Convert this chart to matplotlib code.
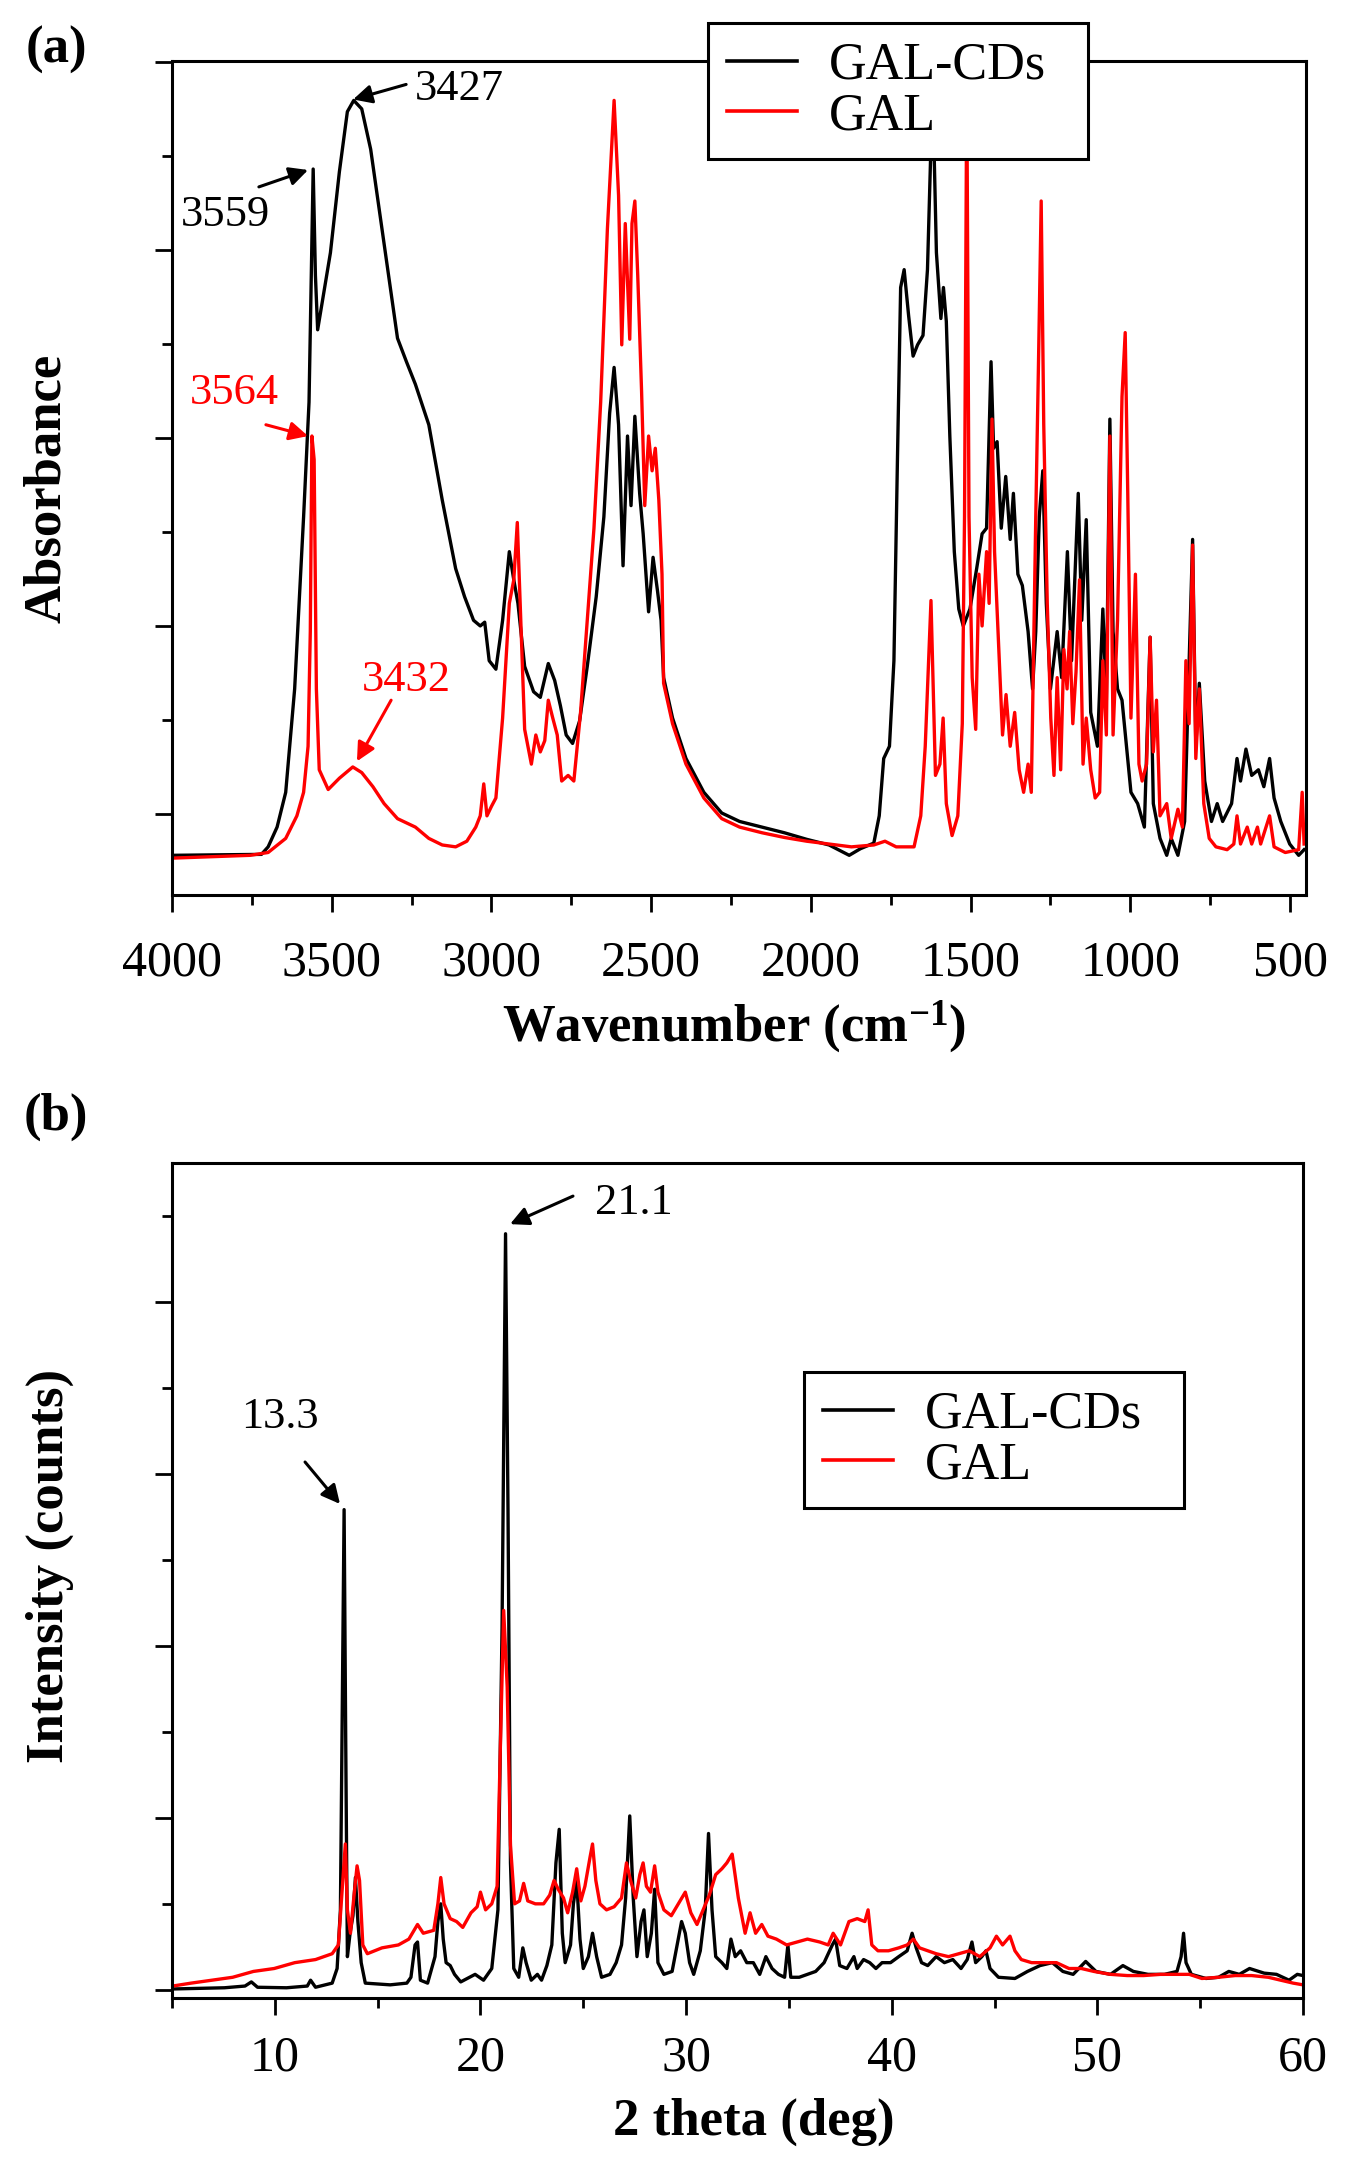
import matplotlib
matplotlib.use("Agg")
import matplotlib.pyplot as plt
from matplotlib.ticker import MultipleLocator, NullFormatter

plt.rcParams['font.family'] = ['Liberation Serif', 'DejaVu Serif']
plt.rcParams['mathtext.default'] = 'regular'

# ---- (a) FTIR data ----
cds_ir_wn = [4000, 3720, 3699, 3671, 3644, 3616, 3588, 3571, 3562, 3558,
             3551, 3544, 3525, 3504, 3476, 3451, 3431, 3406, 3378, 3350,
             3322, 3294, 3266, 3238, 3196, 3154, 3112, 3084, 3056, 3035,
             3021, 3007, 2986, 2965, 2944, 2930, 2917, 2896, 2868, 2847,
             2822, 2802, 2784, 2766, 2746, 2724, 2700, 2672, 2648, 2630,
             2616, 2602, 2588, 2574, 2563, 2551, 2536, 2525, 2508, 2494,
             2480, 2469, 2461, 2433, 2391, 2335, 2279, 2223, 2153, 2083,
             2013, 1943, 1880, 1845, 1803, 1786, 1772, 1754, 1740, 1729,
             1719, 1708, 1694, 1680, 1666, 1649, 1635, 1624, 1618, 1607,
             1593, 1585, 1576, 1565, 1551, 1537, 1523, 1502, 1481, 1464,
             1450, 1436, 1428, 1417, 1404, 1390, 1376, 1366, 1352, 1338,
             1320, 1306, 1296, 1285, 1274, 1263, 1250, 1229, 1215, 1197,
             1184, 1173, 1163, 1152, 1138, 1124, 1103, 1086, 1075, 1064,
             1054, 1040, 1026, 1012, 998, 977, 956, 938, 928, 907,
             886, 872, 851, 830, 805, 795, 784, 767, 746, 728,
             711, 683, 666, 655, 638, 620, 599, 582, 564, 550,
             529, 501, 473, 456]
cds_ir_abs = [-0.044, -0.043, -0.035, -0.014, 0.023, 0.133, 0.316, 0.438, 0.609, 0.686,
              0.573, 0.515, 0.554, 0.597, 0.683, 0.747, 0.759, 0.750, 0.707, 0.640,
              0.573, 0.506, 0.481, 0.457, 0.414, 0.334, 0.261, 0.231, 0.206, 0.200,
              0.204, 0.163, 0.154, 0.206, 0.279, 0.249, 0.224, 0.157, 0.130, 0.124,
              0.160, 0.142, 0.115, 0.084, 0.075, 0.099, 0.157, 0.231, 0.316, 0.426,
              0.475, 0.414, 0.264, 0.402, 0.328, 0.423, 0.341, 0.298, 0.215, 0.273,
              0.237, 0.206, 0.145, 0.102, 0.059, 0.023, 0.001, -0.008, -0.014, -0.020,
              -0.027, -0.033, -0.044, -0.037, -0.031, -0.002, 0.059, 0.072, 0.163, 0.377,
              0.560, 0.579, 0.530, 0.487, 0.499, 0.509, 0.579, 0.713, 0.760, 0.597,
              0.527, 0.560, 0.524, 0.402, 0.279, 0.218, 0.200, 0.218, 0.261, 0.298,
              0.304, 0.481, 0.389, 0.396, 0.304, 0.359, 0.292, 0.341, 0.255, 0.243,
              0.194, 0.133, 0.194, 0.316, 0.365, 0.224, 0.133, 0.194, 0.145, 0.279,
              0.163, 0.255, 0.341, 0.206, 0.313, 0.108, 0.072, 0.218, 0.121, 0.420,
              0.194, 0.133, 0.121, 0.072, 0.023, 0.011, -0.014, 0.188, 0.011, -0.026,
              -0.044, -0.026, -0.044, -0.008, 0.292, 0.072, 0.139, 0.035, -0.008, 0.011,
              -0.008, 0.011, 0.059, 0.035, 0.069, 0.041, 0.047, 0.029, 0.059, 0.017,
              -0.008, -0.032, -0.044, -0.038]

gal_ir_wn = [4000, 3755, 3699, 3644, 3609, 3588, 3574, 3567, 3562, 3555,
             3548, 3539, 3511, 3476, 3434, 3406, 3371, 3336, 3294, 3238,
             3196, 3154, 3112, 3077, 3049, 3035, 3024, 3014, 3000, 2986,
             2965, 2944, 2930, 2919, 2910, 2896, 2875, 2861, 2847, 2833,
             2822, 2808, 2794, 2780, 2760, 2742, 2721, 2700, 2679, 2658,
             2637, 2616, 2602, 2592, 2581, 2567, 2560, 2551, 2542, 2530,
             2520, 2508, 2497, 2487, 2476, 2466, 2461, 2433, 2391, 2335,
             2279, 2223, 2153, 2083, 2013, 1943, 1873, 1803, 1768, 1733,
             1677, 1656, 1642, 1624, 1610, 1596, 1586, 1576, 1558, 1540,
             1526, 1519, 1512, 1505, 1495, 1484, 1474, 1464, 1450, 1442,
             1433, 1425, 1414, 1400, 1389, 1376, 1362, 1348, 1334, 1320,
             1310, 1296, 1288, 1279, 1271, 1260, 1249, 1239, 1229, 1218,
             1208, 1198, 1190, 1180, 1170, 1159, 1148, 1138, 1124, 1110,
             1096, 1086, 1075, 1064, 1054, 1040, 1026, 1016, 1008, 998,
             984, 973, 963, 949, 938, 928, 918, 907, 886, 872,
             851, 837, 826, 816, 805, 795, 784, 770, 753, 732,
             697, 676, 666, 655, 634, 620, 602, 592, 564, 550,
             515, 473, 462, 456]
gal_ir_abs = [-0.047, -0.044, -0.041, -0.026, -0.002, 0.023, 0.072, 0.194, 0.402, 0.377,
              0.133, 0.047, 0.026, 0.038, 0.050, 0.044, 0.029, 0.011, -0.005, -0.014,
              -0.026, -0.033, -0.035, -0.029, -0.014, -0.002, 0.032, -0.002, 0.008, 0.017,
              0.102, 0.224, 0.249, 0.310, 0.224, 0.090, 0.053, 0.084, 0.066, 0.078,
              0.121, 0.102, 0.084, 0.035, 0.041, 0.035, 0.108, 0.206, 0.304, 0.438,
              0.622, 0.759, 0.658, 0.499, 0.628, 0.505, 0.628, 0.652, 0.573, 0.450,
              0.328, 0.402, 0.365, 0.389, 0.334, 0.255, 0.139, 0.096, 0.053, 0.017,
              -0.005, -0.014, -0.020, -0.025, -0.029, -0.032, -0.035, -0.033, -0.029, -0.035,
              -0.035, -0.002, 0.072, 0.227, 0.041, 0.053, 0.102, 0.011, -0.023, -0.002,
              0.096, 0.316, 0.780, 0.316, 0.145, 0.090, 0.255, 0.200, 0.279, 0.224,
              0.420, 0.279, 0.194, 0.084, 0.127, 0.072, 0.108, 0.047, 0.023, 0.053,
              0.023, 0.316, 0.469, 0.652, 0.414, 0.224, 0.102, 0.041, 0.145, 0.047,
              0.175, 0.133, 0.194, 0.096, 0.151, 0.249, 0.053, 0.102, 0.047, 0.017,
              0.023, 0.163, 0.084, 0.402, 0.084, 0.206, 0.444, 0.512, 0.341, 0.102,
              0.255, 0.053, 0.035, 0.053, 0.188, 0.066, 0.121, -0.002, 0.011, -0.026,
              0.005, -0.014, 0.163, 0.096, 0.286, 0.059, 0.133, 0.011, -0.026, -0.035,
              -0.038, -0.032, -0.002, -0.032, -0.014, -0.032, -0.014, -0.032, -0.002, -0.035,
              -0.041, -0.038, 0.023, -0.032]

# ---- (b) XRD data ----
cds_xrd_2t = [5.03, 7.55, 8.55, 8.86, 9.16, 10.57, 11.58, 11.74, 11.98, 12.79,
              13.03, 13.19, 13.29, 13.37, 13.45, 13.53, 13.66, 13.8, 13.92, 14.04,
              14.2, 14.4, 15.61, 16.42, 16.62, 16.82, 16.94, 17.08, 17.43, 17.79,
              17.93, 18.07, 18.19, 18.33, 18.53, 18.74, 19.04, 19.74, 20.15, 20.55,
              20.85, 21.05, 21.22, 21.34, 21.46, 21.62, 21.86, 22.06, 22.22, 22.47,
              22.77, 22.97, 23.23, 23.47, 23.67, 23.83, 23.98, 24.12, 24.38, 24.52,
              24.68, 24.84, 25.0, 25.25, 25.45, 25.65, 25.89, 26.3, 26.6, 26.86,
              27.06, 27.26, 27.43, 27.61, 27.81, 27.95, 28.11, 28.31, 28.47, 28.63,
              28.92, 29.32, 29.62, 29.78, 29.96, 30.17, 30.37, 30.69, 30.93, 31.09,
              31.26, 31.44, 31.74, 31.98, 32.18, 32.39, 32.65, 32.95, 33.27, 33.58,
              33.88, 34.18, 34.49, 34.79, 34.95, 35.09, 35.5, 35.9, 36.3, 36.71,
              37.11, 37.27, 37.47, 37.82, 38.16, 38.32, 38.63, 38.93, 39.23, 39.53,
              39.94, 40.34, 40.75, 40.99, 41.19, 41.45, 41.75, 42.16, 42.56, 42.97,
              43.37, 43.67, 43.9, 44.08, 44.38, 44.58, 44.78, 45.19, 45.99, 46.6,
              47.21, 47.81, 48.32, 48.82, 49.43, 49.93, 50.64, 51.24, 51.75, 52.46,
              53.26, 53.87, 54.07, 54.19, 54.31, 54.57, 55.28, 55.89, 56.39, 56.9,
              57.4, 58.11, 58.71, 59.32, 59.72, 60.0]
cds_xrd_counts = [6, 13, 23, 47, 16, 13, 23, 57, 16, 40,
                  125, 466, 1763, 2793, 1422, 194, 330, 432, 654, 398,
                  159, 40, 30, 40, 74, 262, 279, 57, 40, 194,
                  398, 501, 296, 159, 142, 91, 47, 91, 57, 125,
                  466, 2104, 4397, 2787, 739, 125, 74, 245, 159, 57,
                  91, 57, 142, 262, 739, 934, 330, 159, 262, 501,
                  637, 296, 125, 194, 330, 194, 74, 91, 159, 262,
                  535, 1012, 535, 194, 398, 466, 194, 330, 586, 159,
                  91, 108, 296, 398, 330, 159, 91, 228, 466, 910,
                  466, 194, 159, 125, 296, 194, 228, 159, 159, 91,
                  194, 125, 91, 74, 262, 74, 74, 91, 108, 159,
                  262, 296, 142, 125, 194, 125, 177, 159, 125, 159,
                  159, 194, 228, 330, 245, 159, 142, 194, 159, 177,
                  125, 177, 279, 159, 194, 228, 125, 74, 67, 108,
                  142, 159, 108, 91, 166, 108, 91, 142, 108, 91,
                  91, 108, 194, 330, 159, 91, 67, 74, 108, 91,
                  125, 98, 91, 57, 91, 84]

gal_xrd_2t = [5.03, 5.93, 6.94, 7.95, 8.96, 9.97, 10.97, 11.98, 12.79, 13.09,
              13.29, 13.43, 13.53, 13.68, 13.84, 14.0, 14.12, 14.28, 14.5, 15.21,
              16.01, 16.52, 16.94, 17.22, 17.73, 17.93, 18.07, 18.23, 18.53, 18.84,
              19.14, 19.54, 19.84, 20.0, 20.25, 20.55, 20.81, 20.97, 21.13, 21.3,
              21.46, 21.66, 21.9, 22.1, 22.3, 22.67, 23.07, 23.37, 23.58, 23.78,
              24.04, 24.24, 24.48, 24.68, 24.88, 25.08, 25.33, 25.45, 25.61, 25.81,
              26.13, 26.5, 26.86, 27.1, 27.3, 27.55, 27.75, 27.91, 28.07, 28.27,
              28.47, 28.63, 28.92, 29.28, 29.62, 29.96, 30.23, 30.53, 30.83, 31.13,
              31.44, 31.74, 31.98, 32.24, 32.54, 32.87, 33.11, 33.38, 33.68, 33.98,
              34.39, 34.89, 35.39, 35.9, 36.5, 36.91, 37.15, 37.51, 37.92, 38.32,
              38.69, 38.85, 39.03, 39.33, 39.84, 40.34, 40.75, 41.05, 41.35, 41.75,
              42.16, 42.76, 43.27, 43.77, 44.28, 44.78, 45.09, 45.39, 45.75, 45.99,
              46.3, 46.8, 47.41, 48.01, 48.62, 49.22, 49.83, 50.64, 51.45, 52.25,
              53.06, 53.87, 54.47, 55.08, 55.89, 56.7, 57.5, 58.31, 58.92, 59.52,
              60.0]
gal_xrd_counts = [23, 40, 57, 74, 108, 125, 159, 177, 211, 262,
                  603, 849, 466, 330, 535, 722, 637, 262, 211, 245,
                  262, 296, 381, 330, 347, 501, 654, 501, 415, 398,
                  364, 449, 484, 569, 466, 501, 603, 1422, 2207, 1763,
                  842, 501, 518, 620, 518, 501, 501, 552, 637, 586,
                  535, 449, 569, 705, 518, 603, 773, 849, 637, 501,
                  466, 484, 535, 739, 637, 535, 671, 739, 603, 569,
                  722, 569, 466, 432, 501, 569, 449, 381, 466, 552,
                  671, 705, 739, 790, 535, 330, 449, 330, 381, 313,
                  296, 262, 279, 296, 279, 262, 330, 262, 398, 415,
                  398, 466, 262, 228, 228, 245, 262, 296, 245, 228,
                  211, 194, 211, 228, 194, 245, 313, 262, 313, 228,
                  177, 159, 159, 159, 125, 125, 108, 91, 84, 84,
                  91, 91, 91, 67, 74, 84, 84, 74, 57, 40,
                  30]

fig = plt.figure(figsize=(13.51, 21.76), dpi=100)
ax1 = fig.add_axes([0.1273, 0.5887, 0.8394, 0.3833])
ax2 = fig.add_axes([0.1273, 0.0818, 0.8372, 0.3837])

LW = 2.4
ax1.plot(cds_ir_wn, cds_ir_abs, color='black', lw=LW, label='GAL-CDs')
ax1.plot(gal_ir_wn, gal_ir_abs, color='red', lw=LW, label='GAL')
ax2.plot(cds_xrd_2t, cds_xrd_counts, color='black', lw=LW, label='GAL-CDs')
ax2.plot(gal_xrd_2t, gal_xrd_counts, color='red', lw=LW, label='GAL')

ax1.set_xlim(4000, 450)
ax1.set_ylim(-0.0862, 0.801)
ax1.xaxis.set_major_locator(MultipleLocator(500))
ax1.xaxis.set_minor_locator(MultipleLocator(250))
ax1.yaxis.set_major_locator(MultipleLocator(0.2))
ax1.yaxis.set_minor_locator(MultipleLocator(0.1))

ax2.set_xlim(5, 60)
ax2.set_ylim(-46.5, 4808)
ax2.xaxis.set_major_locator(MultipleLocator(10))
ax2.xaxis.set_minor_locator(MultipleLocator(5))
ax2.yaxis.set_major_locator(MultipleLocator(1000))
ax2.yaxis.set_minor_locator(MultipleLocator(500))

for ax, pad in ((ax1, 20), (ax2, 14)):
    ax.yaxis.set_major_formatter(NullFormatter())
    ax.tick_params(which='major', direction='out', length=12.5, width=2.0,
                   labelsize=36, top=False, right=False)
    ax.tick_params(which='minor', direction='out', length=7, width=2.0,
                   top=False, right=False)
    ax.tick_params(axis='x', which='major', pad=pad)
    for sp in ax.spines.values():
        sp.set_linewidth(2.2)

ax1.set_xlabel('Wavenumber (cm$^{-1}$)', fontsize=38, fontweight='bold', va='center')
ax1.xaxis.set_label_coords(0.4956, -0.158)
ax1.set_ylabel('Absorbance', fontsize=38, fontweight='bold', va='center')
ax1.yaxis.set_label_coords(-0.110, 0.488)

ax2.set_xlabel('2 theta (deg)', fontsize=38, fontweight='bold', va='center')
ax2.xaxis.set_label_coords(0.5146, -0.1485)
ax2.set_ylabel('Intensity (counts)', fontsize=38, fontweight='bold', va='center')
ax2.yaxis.set_label_coords(-0.108, 0.517)

fig.text(56 / 1351, 1 - 50 / 2176, '(a)', fontsize=38, fontweight='bold',
         ha='center', va='center')
fig.text(56 / 1351, 1 - 1117 / 2176, '(b)', fontsize=38, fontweight='bold',
         ha='center', va='center')

# peak annotations
def arrow(ax, head, tail, color):
    ax.annotate('', xy=head, xytext=tail,
                arrowprops=dict(arrowstyle='-|>', color=color, lw=2.2,
                                mutation_scale=28, shrinkA=0, shrinkB=0))

ax1.text(3239, 0.771, '3427', fontsize=32, ha='left', va='center', color='black')
arrow(ax1, (3433, 0.760), (3267, 0.776), 'black')
ax1.text(3834, 0.637, '3559', fontsize=32, ha='center', va='center', color='black')
arrow(ax1, (3574, 0.685), (3728, 0.667), 'black')
ax1.text(3806, 0.448, '3564', fontsize=32, ha='center', va='center', color='red')
arrow(ax1, (3574, 0.402), (3706, 0.414), 'red')
ax1.text(3267, 0.143, '3432', fontsize=32, ha='center', va='center', color='red')
arrow(ax1, (3421, 0.056), (3314, 0.121), 'red')

ax2.text(10.25, 3331, '13.3', fontsize=32, ha='center', va='center', color='black')
arrow(ax2, (13.17, 2826), (11.47, 3070), 'black')
ax2.text(27.47, 4576, '21.1', fontsize=32, ha='center', va='center', color='black')
arrow(ax2, (21.44, 4453), (24.5, 4616), 'black')

# legends: boxes span 380 px wide in the figure
W, H = 380 / 1351, 0.01
leg_kw = dict(loc='upper left', mode='expand', bbox_transform=fig.transFigure,
              frameon=True, fancybox=False, edgecolor='black', framealpha=1,
              fontsize=37.5, handlelength=1.35, handletextpad=0.62, borderpad=0.36,
              labelspacing=0.05, borderaxespad=0)
leg1 = ax1.legend(bbox_to_anchor=(708 / 1351, 1 - 23 / 2176 - H, W, H), **leg_kw)
leg2 = ax2.legend(bbox_to_anchor=(804 / 1351, 1 - 1372 / 2176 - H, W, H), **leg_kw)
for leg in (leg1, leg2):
    leg.get_frame().set_linewidth(2.2)
    leg.set_zorder(10)
    for h in leg.get_lines():
        h.set_linewidth(2.6)

fig.savefig('out.png', dpi=100)
